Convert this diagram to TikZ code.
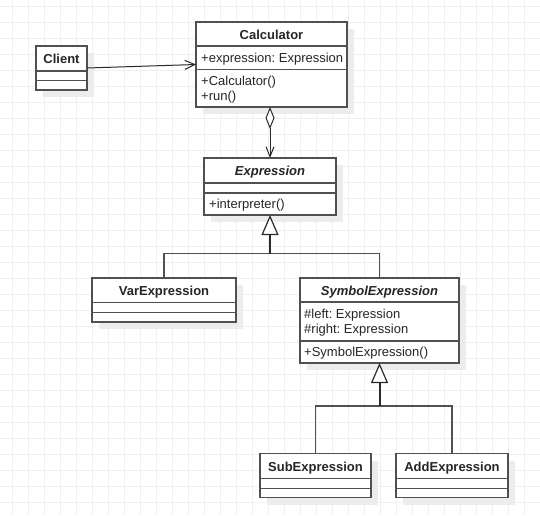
\documentclass[tikz,border=0pt]{standalone}
\usepackage{fontspec}
\setmainfont{Liberation Sans}
\usetikzlibrary{arrows.meta,calc}
\frenchspacing
\definecolor{gridc}{HTML}{EFEFEF}
\definecolor{shadowc}{HTML}{ECECEC}
\definecolor{linec}{HTML}{505050}
\definecolor{textc}{HTML}{262626}
\definecolor{connc}{HTML}{2A2A2A}
\newcommand\umlbox[7]{%
  \fill[shadowc] (#2+7,#3+7) rectangle ++(#4,#5);
  \node[classbox, minimum width=#4pt, minimum height=#5pt, anchor=north west] (#1) at (#2,#3) {};
  \draw[sepline] ($(#1.north west)+(0,#6)$) -- ++(#4,0);
  \draw[sepline] ($(#1.north west)+(0,#7)$) -- ++(#4,0);
}
\begin{document}
\begin{tikzpicture}[x=1pt,y=-1pt,
  classbox/.style={draw=linec, line width=1.3pt, fill=white, inner sep=0pt, outer sep=0pt},
  sepline/.style={draw=linec, line width=1.1pt},
  hdr/.style={font=\fontsize{13}{15}\selectfont\bfseries\frenchspacing, text=textc, inner sep=0pt, anchor=base},
  ihdr/.style={hdr, font=\fontsize{13}{15}\selectfont\bfseries\itshape},
  mem/.style={font=\fontsize{13}{15}\selectfont\frenchspacing, text=textc, inner sep=0pt, anchor=base west},
  assoc/.style={draw=connc, line width=1pt, -{Straight Barb[length=10pt,width=9pt]}},
  agg/.style={draw=connc, line width=1pt, {Diamond[open,fill=white,length=22pt,width=9pt]}-{Straight Barb[length=10pt,width=8pt]}},
  genstem/.style={draw=connc, line width=2pt, -{Triangle[open,fill=white,length=20pt,width=17pt,line width=1.2pt]}},
  genline/.style={draw=linec, line width=1.2pt},
]
\useasboundingbox (0,0) rectangle (540,515);
\fill[white] (0,0) rectangle (540,515);
\foreach \k in {0,...,33} \draw[gridc, line width=1pt] (12.3+16*\k,0) -- ++(0,515);
\foreach \k in {0,...,31} \draw[gridc, line width=1pt] (0,6+16*\k) -- ++(540,0);

\umlbox{client}{36}{46}{51}{44}{25}{34.5}
\umlbox{calc}{196}{22}{151}{85}{24}{47.7}
\umlbox{expr}{204}{158}{132}{57}{25}{35}
\umlbox{var}{92}{278}{144}{44}{24.3}{34.7}
\umlbox{sym}{300}{278}{159}{85}{24}{63}
\umlbox{sub}{260}{453.5}{111}{44}{25}{35}
\umlbox{add}{396}{453.5}{112}{44}{25}{35}

\node[hdr] (clientt) at ($(client.north)+(0,17.4)$) {Client};
\node[hdr] (calct) at ($(calc.north)+(0,17.4)$) {Calculator};
\node[mem] (calca) at ($(calc.north west)+(5,40.8)$) {+expression: Expression};
\node[mem] (calcm1) at ($(calc.north west)+(5,63.3)$) {+Calculator()};
\node[mem] (calcm2) at ($(calc.north west)+(5,78.6)$) {+run()};
\node[ihdr] (exprt) at ($(expr.north)+(0,17.4)$) {Expression};
\node[mem] (exprm) at ($(expr.north west)+(5,50.7)$) {+interpreter()};
\node[hdr] (vart) at ($(var.north)+(0,17.8)$) {VarExpression};
\node[ihdr] (symt) at ($(sym.north)+(0,17.8)$) {SymbolExpression};
\node[mem] (syma1) at ($(sym.north west)+(4,40)$) {\#left: Expression};
\node[mem] (syma2) at ($(sym.north west)+(4,55.3)$) {\#right: Expression};
\node[mem] (symm) at ($(sym.north west)+(4,78.7)$) {+SymbolExpression()};
\node[hdr] (subt) at ($(sub.north)+(0,18)$) {SubExpression};
\node[hdr] (addt) at ($(add.north)+(0,18)$) {AddExpression};

\draw[assoc] (client.east) -- (calc.west);
\draw[agg] (expr.north |- calc.south) -- (expr.north);

\coordinate (j1) at ($(expr.south)+(0,38.5)$);
\draw[genline] (var.north) |- (j1) -| (sym.north);
\draw[genstem] (j1) -- (expr.south);

\coordinate (j2) at ($(sym.south)+(0,43)$);
\draw[genline] (sub.north) |- (j2) -| (add.north);
\draw[genstem] (j2) -- (sym.south);
\end{tikzpicture}
\end{document}
